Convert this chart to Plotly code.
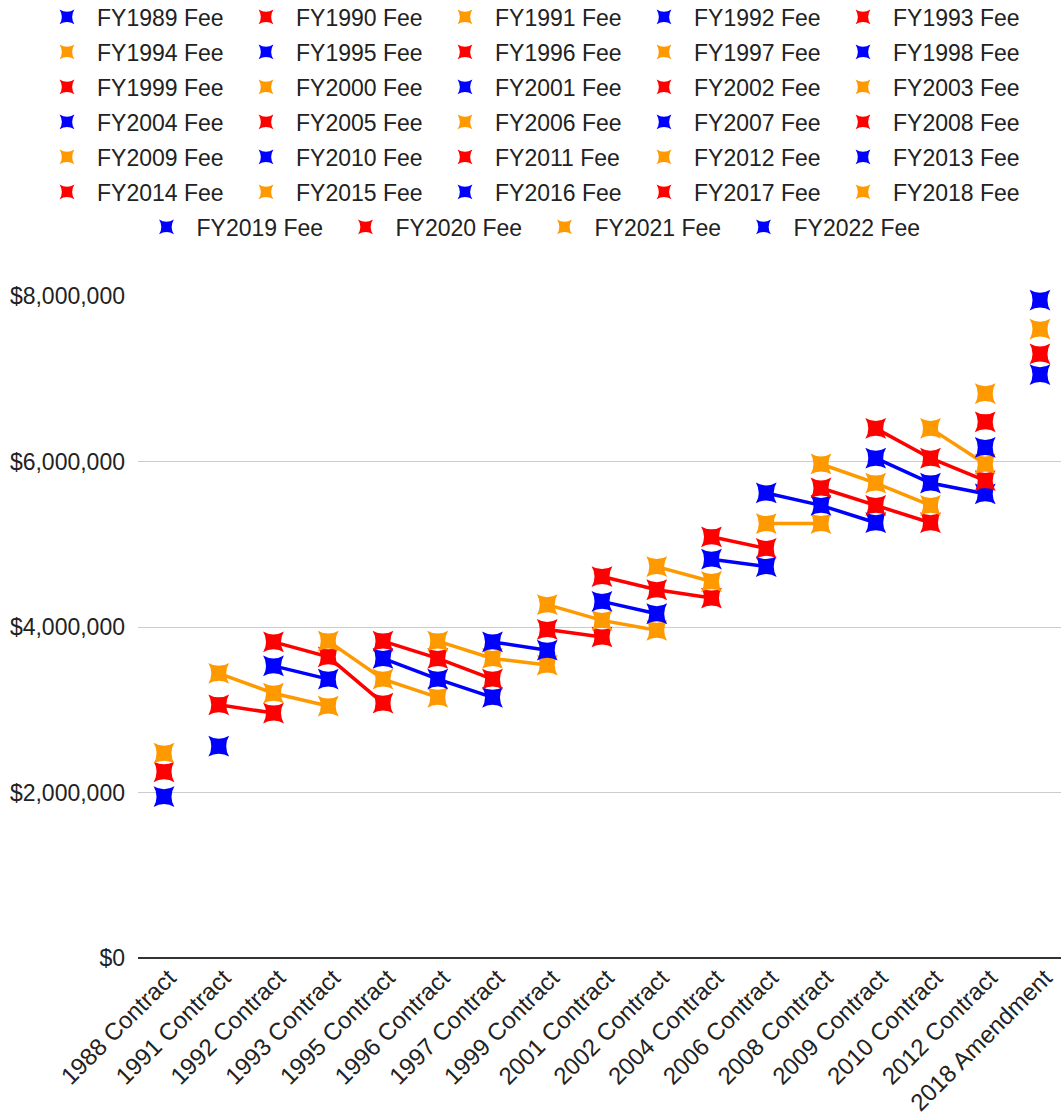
import plotly.graph_objects as go

CONTRACTS = ["1988 Contract", "1991 Contract", "1992 Contract", "1993 Contract",
             "1995 Contract", "1996 Contract", "1997 Contract", "1999 Contract",
             "2001 Contract", "2002 Contract", "2004 Contract", "2006 Contract",
             "2008 Contract", "2009 Contract", "2010 Contract", "2012 Contract",
             "2018 Amendment"]

# first fiscal year covered by each contract
FIRST_FY = [1989, 1992, 1993, 1994, 1996, 1997, 1998, 2000, 2002, 2003,
            2005, 2007, 2009, 2010, 2011, 2013, 2019]

# fees set by each contract for consecutive fiscal years, starting at FIRST_FY
FEES_1988 = [1950000, 2250000, 2475000]
FEES_1991 = [2560000, 3060000, 3440000]
FEES_1992 = [2960000, 3200000, 3530000, 3820000]
FEES_1993 = [3045000, 3370000, 3640000, 3830000]
FEES_1995 = [3080000, 3370000, 3620000, 3830000]
FEES_1996 = [3150000, 3370000, 3620000, 3830000]
FEES_1997 = [3150000, 3370000, 3620000, 3820000]
FEES_1999 = [3540000, 3720000, 3970000, 4270000]
FEES_2001 = [3880000, 4080000, 4310000, 4610000]
FEES_2002 = [3960000, 4160000, 4450000, 4730000]
FEES_2004 = [4350000, 4550000, 4820000, 5090000]
FEES_2006 = [4730000, 4950000, 5250000, 5620000]
FEES_2008 = [5250000, 5470000, 5680000, 5970000]
FEES_2009 = [5260000, 5470000, 5740000, 6040000, 6400000]
FEES_2010 = [5260000, 5470000, 5740000, 6040000, 6400000]
FEES_2012 = [5610000, 5770000, 5970000, 6170000, 6480000, 6820000]
FEES_2018 = [7050000, 7300000, 7600000, 7950000]

FEES = [FEES_1988, FEES_1991, FEES_1992, FEES_1993, FEES_1995, FEES_1996,
        FEES_1997, FEES_1999, FEES_2001, FEES_2002, FEES_2004, FEES_2006,
        FEES_2008, FEES_2009, FEES_2010, FEES_2012, FEES_2018]

FISCAL_YEARS = list(range(1989, 2023))
COLORS = ["#0000ff", "#ff0000", "#ff9900"]
Y_TICKS = [0, 2000000, 4000000, 6000000, 8000000]

W, H = 1061, 1116
PER_ROW = 5

# build series: one per fiscal year
series = {fy: ([], []) for fy in FISCAL_YEARS}
for contract, first, fees in zip(CONTRACTS, FIRST_FY, FEES):
    for i, v in enumerate(fees):
        fy = first + i
        series[fy][0].append(contract)
        series[fy][1].append(v)

def legend_id(row):
    return "legend" if row == 0 else f"legend{row + 1}"

fig = go.Figure()
for k, fy in enumerate(FISCAL_YEARS):
    col = COLORS[k % 3]
    xs, ys = series[fy]
    name = f"FY{fy} Fee"
    fig.add_trace(go.Scatter(
        x=xs, y=ys, mode="lines+markers", name=name, legendgroup=name,
        showlegend=False, cliponaxis=False,
        line=dict(color=col, width=3.5),
        marker=dict(symbol="star-diamond", angle=45, size=21, color=col,
                    line=dict(width=0)),
    ))
    fig.add_trace(go.Scatter(
        x=[None], y=[None], mode="markers", name=name, legendgroup=name,
        showlegend=True, legend=legend_id(k // PER_ROW),
        marker=dict(symbol="star-diamond", angle=45, size=15, color=col,
                    line=dict(width=0)),
    ))

n_rows = (len(FISCAL_YEARS) + PER_ROW - 1) // PER_ROW
legends = {}
for r in range(n_rows):
    yc = 17 + 35 * r
    legends[legend_id(r)] = dict(
        orientation="h", xanchor="center", x=534.5 / W, xref="container",
        yref="container", yanchor="middle", y=1 - yc / H,
        font=dict(family="Liberation Sans, Arial, sans-serif", size=23, color="#222222"),
        entrywidth=134, entrywidthmode="pixels", itemwidth=50,
        bgcolor="rgba(0,0,0,0)",
    )

fig.update_layout(
    width=W, height=H,
    margin=dict(l=0, r=0, t=296, b=158, autoexpand=False),
    paper_bgcolor="white", plot_bgcolor="white",
    font=dict(family="Liberation Sans, Arial, sans-serif", color="#222222"),
    xaxis=dict(
        domain=[138 / W, 1],
        type="category", categoryorder="array", categoryarray=CONTRACTS,
        range=[-0.475, 16.384], tickangle=-45,
        tickfont=dict(size=24, color="#222222"),
        showgrid=False, showline=False, zeroline=False, ticks="",
        automargin=False, ticklabelstandoff=0, ticklabelshift=5,
    ),
    yaxis=dict(
        range=[0, 8000000], tickvals=Y_TICKS,
        tickformat="$,.0f", tickfont=dict(size=23, color="#222222"),
        showgrid=True, gridcolor="#cccccc", gridwidth=1,
        zeroline=True, zerolinecolor="#333333", zerolinewidth=2,
        showline=False, ticks="", automargin=False, ticklabelstandoff=12,
    ),
    **legends,
)

fig.write_html(
    "out.html",
    config={"displayModeBar": False},
    post_script="document.body.style.margin='0';document.body.style.overflow='hidden';",
)
